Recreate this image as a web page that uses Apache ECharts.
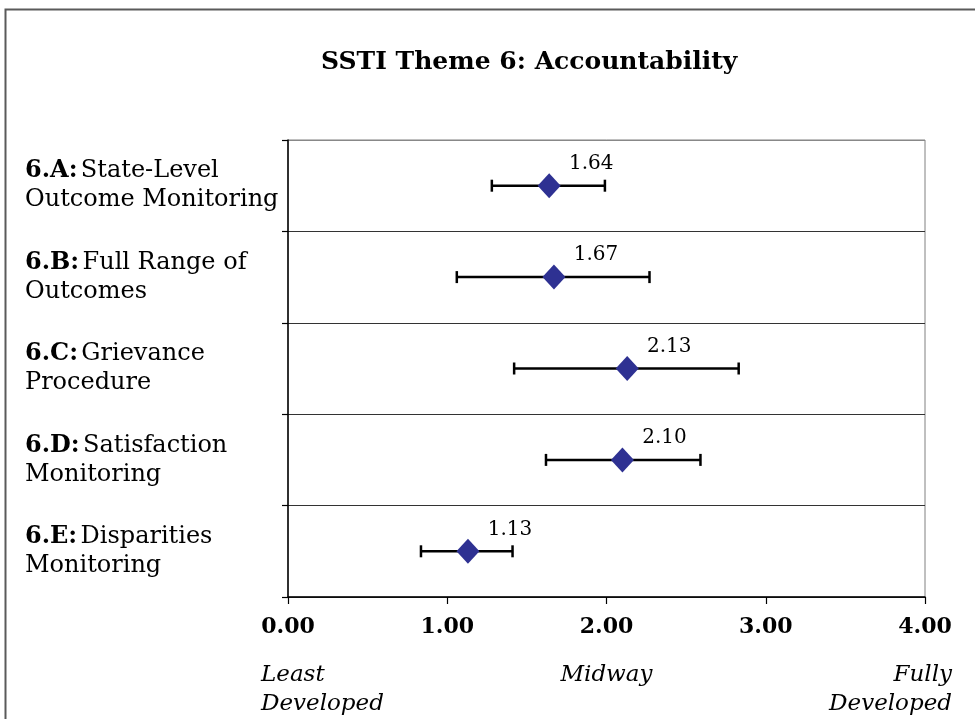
<!DOCTYPE html>
<html>
<head>
<meta charset="utf-8">
<script src="https://cdn.jsdelivr.net/npm/echarts@6/dist/echarts.min.js"></script>
<style>
  html, body { margin: 0; padding: 0; background: #fff; }
  #chart { width: 975px; height: 719px; }
</style>
</head>
<body>
<div id="chart"></div>
<script>
// ---- data ----
const codes = ['6.A:', '6.B:', '6.C:', '6.D:', '6.E:'];
const names = [
  ['State-Level', 'Outcome Monitoring'],
  ['Full Range of', 'Outcomes'],
  ['Grievance', 'Procedure'],
  ['Satisfaction', 'Monitoring'],
  ['Disparities', 'Monitoring']
];
const means = [1.64, 1.67, 2.13, 2.10, 1.13];
const lows  = [1.28, 1.06, 1.42, 1.62, 0.835];
const highs = [1.99, 2.27, 2.83, 2.59, 1.41];
const xTicks = [0, 1, 2, 3, 4];
const descriptorValues = [0, 2, 4];
const descriptorTexts = ['Least\nDeveloped', 'Midway', 'Fully\nDeveloped'];

const FONT = '"DejaVu Serif", serif';
const chart = echarts.init(document.getElementById('chart'), null, { renderer: 'canvas' });

const option = {
  backgroundColor: '#fff',
  animation: false,
  title: {
    text: 'SSTI Theme 6: Accountability',
    left: 316, top: 45,
    textStyle: { fontFamily: FONT, fontWeight: 'bold', fontSize: 25, color: '#000' }
  },
  grid: {
    left: 288, right: 50, top: 140, bottom: 122,
    show: true, borderColor: '#808080', borderWidth: 1, backgroundColor: 'transparent'
  },
  xAxis: {
    type: 'value', min: 0, max: 4, interval: 1,
    axisLine: { show: true, lineStyle: { color: '#000', width: 1.5 } },
    axisTick: { show: true, length: 7, lineStyle: { color: '#000', width: 1.2 } },
    splitLine: { show: false },
    axisLabel: {
      margin: 19,
      fontFamily: FONT, fontWeight: 'bold', fontSize: 22, color: '#000',
      formatter: v => xTicks.includes(v) ? v.toFixed(2) : ''
    }
  },
  yAxis: {
    type: 'category', inverse: true,
    data: codes,
    axisLine: { show: true, lineStyle: { color: '#000', width: 1.5 } },
    axisTick: { show: true, length: 6, lineStyle: { color: '#000', width: 1.2 } },
    splitLine: { show: true, lineStyle: { color: ['#888', '#333', '#333', '#333', '#333', '#333'], width: 1.2 } },
    axisLabel: {
      align: 'left', margin: 263,
      formatter: (v, i) => '{b|' + codes[i] + '} {r|' + names[i][0] + '}\n{r|' + names[i][1] + '}',
      rich: {
        b: { fontFamily: FONT, fontWeight: 'bold', fontSize: 24, color: '#000', lineHeight: 29 },
        r: { fontFamily: FONT, fontSize: 24, color: '#000', lineHeight: 29 }
      }
    }
  },
  series: [
    {
      type: 'custom',
      z: 2,
      data: codes.map((c, i) => [lows[i], highs[i], i]),
      renderItem: (params, api) => {
        const lo = api.coord([api.value(0), api.value(2)]);
        const hi = api.coord([api.value(1), api.value(2)]);
        const h = 6;
        const style = { stroke: '#000', lineWidth: 2.5 };
        return {
          type: 'group',
          children: [
            { type: 'line', shape: { x1: lo[0], y1: lo[1], x2: hi[0], y2: hi[1] }, style },
            { type: 'line', shape: { x1: lo[0], y1: lo[1] - h, x2: lo[0], y2: lo[1] + h }, style },
            { type: 'line', shape: { x1: hi[0], y1: hi[1] - h, x2: hi[0], y2: hi[1] + h }, style }
          ]
        };
      },
      encode: { x: [0, 1], y: 2 }
    },
    {
      type: 'scatter',
      z: 3,
      symbol: 'diamond',
      symbolSize: [23, 25],
      itemStyle: { color: '#2E3192', opacity: 1 },
      data: means.map((m, i) => [m, i]),
      label: {
        show: true, position: 'inside', offset: [42, -22],
        fontFamily: FONT, fontSize: 20, color: '#000', opacity: 1,
        formatter: p => p.value[0].toFixed(2)
      }
    }
  ],
  graphic: [
    {
      type: 'rect', silent: true, z: 100,
      shape: { x: 5.5, y: 9.5, width: 1000, height: 800 },
      style: { fill: 'none', stroke: '#5a5a5a', lineWidth: 2 }
    }
  ]
};
chart.setOption(option);

// descriptor texts under the axis, positioned through the x scale
const descGraphics = descriptorValues.map((v, i) => {
  const px = chart.convertToPixel({ xAxisIndex: 0 }, v);
  const last = descriptorValues.length - 1;
  const align = i === 0 ? 'left' : (i === last ? 'right' : 'center');
  const x = i === 0 ? px - 27 : (i === last ? px + 27 : px);
  return {
    type: 'text', silent: true,
    x: x, y: 661,
    style: {
      text: descriptorTexts[i], align: align, verticalAlign: 'top',
      font: 'italic 23px ' + FONT, fill: '#000', lineHeight: 29
    }
  };
});
chart.setOption({ graphic: option.graphic.concat(descGraphics) });
</script>
</body>
</html>
